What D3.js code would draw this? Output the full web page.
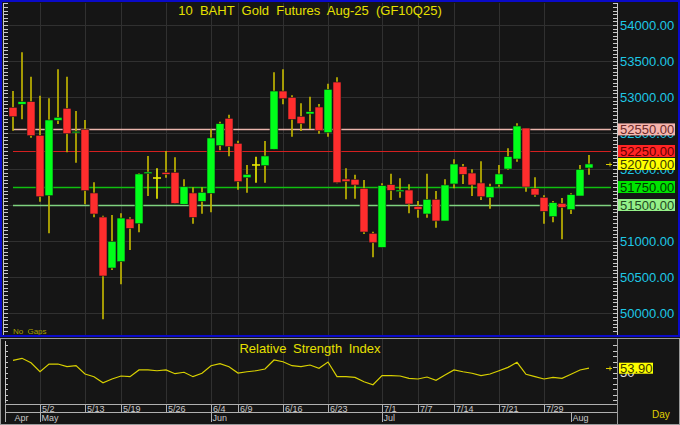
<!DOCTYPE html>
<html><head><meta charset="utf-8">
<script src="https://cdn.jsdelivr.net/npm/d3@7"></script>
<style>body{margin:0;background:#151515;} svg{display:block;font-family:Arial,"Liberation Sans",sans-serif;}</style>
</head><body><svg id="c" width="680" height="425"></svg>
<script>
const dates = ["4/28","4/29","4/30","5/2","5/6","5/7","5/8","5/9","5/13","5/14","5/15","5/16","5/19","5/20","5/21","5/22","5/23","5/26","5/27","5/28","5/29","5/30","6/4","6/5","6/6","6/9","6/10","6/11","6/12","6/13","6/16","6/17","6/18","6/19","6/20","6/23","6/24","6/25","6/26","6/27","6/30","7/1","7/2","7/3","7/4","7/7","7/8","7/9","7/11","7/14","7/15","7/16","7/17","7/18","7/21","7/22","7/23","7/24","7/25","7/29","7/30","7/31","8/1","8/4","8/5"];
const open = [52857,52899,52935,52468,51629,52676,52843,52504,52551,51667,51333,50625,50713,51306,51240,51935,51875,51954,51954,51510,51667,51551,51662,52324,52704,52357,51879,52056,52046,52274,53083,52996,52732,52764,52861,52504,53208,51861,51857,51732,51107,50912,51782,51685,51708,51482,51375,51579,51278,51792,52032,51944,51806,51601,51787,52000,52139,52569,51732,51607,51338,51523,51435,51625,52014];
const close = [52726,52935,52463,51615,52681,52718,52490,52523,51699,51375,50514,50996,51319,51176,51931,51958,51875,51926,51523,51754,51329,51676,52431,52629,52310,51824,51926,52056,52181,53083,52976,52690,52629,52796,52532,53107,51810,51826,51778,51125,50976,51768,51704,51708,51514,51440,51579,51278,51778,52069,51926,51778,51615,51754,51931,52171,52597,51750,51639,51412,51532,51468,51643,51996,52070];
const high = [53083,53621,53282,53018,52982,53385,53282,52806,52681,51815,51351,51361,51385,51329,51940,52181,52010,52250,52162,51857,51746,51746,52551,52657,52754,52393,52056,52171,52389,53343,53385,53024,52912,53004,52903,53185,53274,52010,51921,51847,51129,51801,51935,51871,51787,51556,51935,51694,51857,52135,52069,51996,52106,51796,52056,52287,52635,52569,51885,51635,51556,51597,51662,52056,52194];
const low = [52532,52690,52435,51546,51107,52625,52232,52088,51510,51329,49912,50597,50399,50875,51121,51625,51588,51879,51520,51510,51240,51379,51398,52260,52176,51713,51671,51810,51810,52274,52899,52449,52528,52556,52490,52449,51801,51579,51588,51097,50774,50912,51569,51601,51385,51324,51324,51185,51278,51732,51792,51625,51569,51449,51754,51986,52101,51685,51615,51240,51260,51024,51375,51625,51921];
const rsi = [61.1,62.9,58.9,50.7,57.7,57.7,55.3,56.2,48.6,46.2,40.7,44.1,46.8,46.2,52.3,52.3,51.6,52.3,48.9,50.2,46.2,49.3,56.2,58.0,55.3,49.5,50.7,51.6,53.2,61.4,59.8,56.2,55.3,56.8,53.8,59.5,46.2,46.2,45.6,41.6,38.9,47.1,47.1,46.8,44.7,44.1,45.9,42.9,47.7,52.3,50.7,49.3,47.1,48.6,51.6,54.7,59.3,48.4,46.2,44.1,45.6,44.7,48.4,52.3,53.9];
const dateLabels = ["5/2","5/13","5/19","5/26","6/4","6/9","6/16","6/23","7/1","7/7","7/14","7/21","7/29"];
const monthLabels = ["Apr","May","Jun","Jul","Aug"];
const monthStarts = ["4/28","5/2","6/4","7/1","8/1"];
const levelValues = [52550, 52250, 51750, 51500];
const levelLine = ["#e9b4ac","#d42020","#10c010","#7fd27f"];
const levelBox = ["#f6b4ac","#ff2424","#00e400","#94f088"];
const levelText = ["#6a2a2a","#600000","#003800","#1e4a1e"];
const lastPrice = 52070;
const lastRsi = 53.90;
const title = "10 BAHT Gold Futures Aug-25 (GF10Q25)";
const rsiTitle = "Relative Strength Index";

const svg = d3.select("#c");
const W = 680, H = 425;
const plotL = 4, plotR = 617, mainT = 3, mainB = 335, rsiT = 339, rsiB = 403.5;
svg.append("rect").attr("width", W).attr("height", H).attr("fill", "#151515");

const x = d3.scalePoint().domain(dates).range([13, 589]);
const y = d3.scaleLinear().domain([50000, 54000]).range([313, 25]);
const rsiY = d3.scaleLinear().domain([25, 75]).range([400, 345]);
const px = v => Math.round(v) + 0.5;

// grid
const grid = svg.append("g").attr("stroke", "#303030").attr("stroke-width", 1);
grid.selectAll("line.h").data(y.ticks(8)).join("line").attr("class","h")
  .attr("x1", plotL).attr("x2", plotR).attr("y1", d => px(y(d))).attr("y2", d => px(y(d)));
grid.selectAll("line.v").data(dateLabels).join("line").attr("class","v")
  .attr("x1", d => px(x(d))).attr("x2", d => px(x(d))).attr("y1", mainT).attr("y2", mainB);
grid.selectAll("line.rv").data(dateLabels).join("line").attr("class","rv")
  .attr("x1", d => px(x(d))).attr("x2", d => px(x(d))).attr("y1", rsiT).attr("y2", rsiB);

// minor ticks main
const tv = d3.range(Math.ceil(y.invert(mainB) / 50) * 50, y.invert(mainT), 50);
const tk = svg.append("g").attr("stroke", "#c8c8c8").attr("stroke-width", 1);
tk.selectAll("line.l").data(tv).join("line").attr("class","l")
  .attr("x1", 4).attr("x2", 8).attr("y1", d => px(y(d))).attr("y2", d => px(y(d)));
tk.selectAll("line.r").data(tv).join("line").attr("class","r")
  .attr("x1", 613).attr("x2", 617).attr("y1", d => px(y(d))).attr("y2", d => px(y(d)));
tk.append("line").attr("x1", 617.5).attr("x2", 617.5).attr("y1", mainT).attr("y2", mainB);
tk.append("line").attr("x1", 3.5).attr("x2", 3.5).attr("y1", mainT).attr("y2", mainB);

// price labels
svg.append("g").selectAll("text").data(y.ticks(8)).join("text")
  .attr("x", 620).attr("y", d => y(d)).attr("dy", "0.36em")
  .attr("fill", "#1ec8e6").attr("font-size", 13).text(d => d3.format(".2f")(d));

// level lines
svg.append("g").selectAll("line").data(levelValues).join("line")
  .attr("x1", 13).attr("x2", 611).attr("y1", d => px(y(d))).attr("y2", d => px(y(d)))
  .attr("stroke", (d, i) => levelLine[i]).attr("stroke-width", (d, i) => i === 1 ? 1 : 1.5);

// candles
const idx = d3.range(dates.length);
const cg = svg.append("g");
cg.selectAll("line.w").data(idx).join("line").attr("class","w")
  .attr("x1", i => x(dates[i])).attr("x2", i => x(dates[i]))
  .attr("y1", i => y(high[i])).attr("y2", i => y(low[i]))
  .attr("stroke", i => open[i] === close[i] ? "#e6e600" : "#bdb200").attr("stroke-width", 1.7);
cg.selectAll("rect.b").data(idx.filter(i => open[i] !== close[i])).join("rect").attr("class","b")
  .attr("x", i => x(dates[i]) - 4).attr("width", 8)
  .attr("y", i => y(Math.max(open[i], close[i])))
  .attr("height", i => Math.max(1.5, Math.abs(y(open[i]) - y(close[i]))))
  .attr("fill", i => close[i] > open[i] ? "#00ff1a" : "#ff2d2d")
  .attr("stroke", "#1a1a1a").attr("stroke-width", 0.6);
cg.selectAll("line.d").data(idx.filter(i => open[i] === close[i])).join("line").attr("class","d")
  .attr("x1", i => x(dates[i]) - 4).attr("x2", i => x(dates[i]) + 4)
  .attr("y1", i => y(open[i])).attr("y2", i => y(open[i]))
  .attr("stroke", "#e6e600").attr("stroke-width", 1.6);

// level boxes
const lb = svg.append("g");
levelValues.forEach((v, i) => {
  lb.append("rect").attr("x", 618).attr("y", y(v) - 6).attr("width", 57).attr("height", 12).attr("fill", levelBox[i]);
  lb.append("text").attr("x", 620).attr("y", y(v)).attr("dy", "0.36em").attr("font-size", 13)
    .attr("fill", levelText[i]).text(d3.format(".2f")(v));
});
lb.append("rect").attr("x", 618).attr("y", y(lastPrice) - 6).attr("width", 57).attr("height", 12).attr("fill", "#ffff00");
lb.append("text").attr("x", 620).attr("y", y(lastPrice)).attr("dy", "0.36em").attr("font-size", 13)
  .attr("fill", "#3a3a00").text(d3.format(".2f")(lastPrice));
const marker = (yy) => svg.append("path").attr("d", `M606,${px(yy)}h6M610,${px(yy)-2}v4`).attr("stroke", "#d8cc00").attr("stroke-width", 1).attr("fill","none");
marker(y(lastPrice));

// titles
svg.append("text").attr("x", 310).attr("y", 15).attr("text-anchor", "middle").attr("font-size", 13)
  .attr("fill", "#e6e000").style("word-spacing", "3.6px").text(title);
svg.append("text").attr("x", 13).attr("y", 334).attr("font-size", 8).attr("fill", "#a8a000")
  .style("word-spacing", "2px").text("No Gaps");

// frame main
svg.append("rect").attr("x", 1).attr("y", 1).attr("width", 678).attr("height", 335)
  .attr("fill", "none").attr("stroke", "#0a0ac8").attr("stroke-width", 2);

// lower frame
svg.append("rect").attr("x", 0.5).attr("y", 338.5).attr("width", 679).attr("height", 86)
  .attr("fill", "none").attr("stroke", "#9a9a9a");
svg.append("line").attr("x1", 617.5).attr("x2", 617.5).attr("y1", 338).attr("y2", 425).attr("stroke", "#9a9a9a");

// RSI axes
const rt = rsiY.ticks(10);
const rg = svg.append("g").attr("stroke", "#c8c8c8");
rg.selectAll("line.l").data(rt).join("line").attr("class","l")
  .attr("x1", 5).attr("x2", 8).attr("y1", d => px(rsiY(d))).attr("y2", d => px(rsiY(d)));
rg.selectAll("line.r").data(rt).join("line").attr("class","r")
  .attr("x1", 613).attr("x2", 617).attr("y1", d => px(rsiY(d))).attr("y2", d => px(rsiY(d)));
rg.append("line").attr("x1", 5.5).attr("x2", 5.5).attr("y1", rsiT + 2).attr("y2", rsiB);

// RSI line
svg.append("path").datum(idx).attr("fill", "none").attr("stroke", "#d8d000").attr("stroke-width", 1.2)
  .attr("d", d3.line().x(i => x(dates[i])).y(i => rsiY(rsi[i])));
svg.append("text").attr("x", 310).attr("y", 353).attr("text-anchor", "middle").attr("font-size", 13)
  .attr("fill", "#e6e000").style("word-spacing", "3px").text(rsiTitle);
svg.append("text").attr("x", 620).attr("y", rsiY(50)).attr("dy", "0.36em").attr("font-size", 13)
  .attr("fill", "#e0e0e0").text("50");
svg.append("rect").attr("x", 619).attr("y", rsiY(lastRsi) - 5.5).attr("width", 34).attr("height", 11).attr("fill", "#ffff00");
svg.append("text").attr("x", 620).attr("y", rsiY(lastRsi)).attr("dy", "0.36em").attr("font-size", 13)
  .attr("fill", "#3a3a00").text(d3.format(".2f")(lastRsi));
marker(rsiY(lastRsi));

// date rows
const dr = svg.append("g").attr("stroke", "#b0b0b0");
dr.append("line").attr("x1", 5).attr("x2", 617).attr("y1", 404.5).attr("y2", 404.5);
dr.append("line").attr("x1", 5).attr("x2", 617).attr("y1", 412.5).attr("y2", 412.5);
dr.append("line").attr("x1", 5.5).attr("x2", 5.5).attr("y1", 404).attr("y2", 422);
dr.selectAll("line.dv").data(dateLabels).join("line").attr("class","dv")
  .attr("x1", d => px(x(d))).attr("x2", d => px(x(d))).attr("y1", 404).attr("y2", 412);
dr.selectAll("line.mv").data(monthStarts.slice(1)).join("line").attr("class","mv")
  .attr("x1", d => px(x(d))).attr("x2", d => px(x(d))).attr("y1", 412).attr("y2", 422);
svg.append("g").selectAll("text").data(dateLabels).join("text")
  .attr("x", d => x(d) + 2).attr("y", 411.5).attr("font-size", 9).attr("fill", "#c8c8c8").text(d => d);
svg.append("g").selectAll("text").data(monthLabels).join("text")
  .attr("x", (d, i) => x(monthStarts[i]) + 1.5).attr("y", 420.5).attr("font-size", 9).attr("fill", "#c8c8c8").text(d => d);
svg.append("text").attr("x", 652).attr("y", 418).attr("font-size", 10).attr("fill", "#e0d000").text("Day");
</script></body></html>
